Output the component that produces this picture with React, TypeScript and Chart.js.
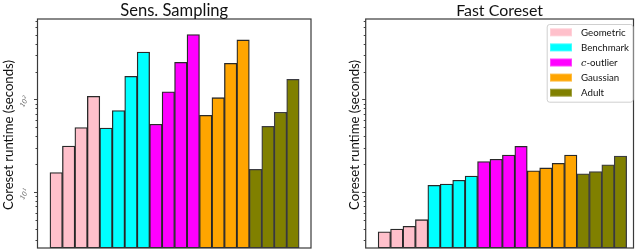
import React, { useEffect, useRef } from "react";
import { Chart, registerables } from "chart.js";

Chart.register(...registerables);

// ---------- data ----------
const groupLabels = ["Geometric", "Benchmark", "c-outlier", "Gaussian", "Adult"];
const groupColors = ["#FFC0CB", "#00FFFF", "#FF00FF", "#FFA500", "#808000"];

const sensGeometric = [16.2, 31.4, 49.6, 108];
const sensBenchmark = [49.2, 75.7, 178, 326];
const sensOutlier = [54, 121, 252, 502];
const sensGaussian = [67.5, 104.5, 246, 440];
const sensAdult = [17.6, 51.3, 72.8, 165];

const fastGeometric = [3.72, 3.98, 4.26, 5.02];
const fastBenchmark = [11.8, 12.2, 13.4, 14.9];
const fastOutlier = [21.3, 22.6, 25.1, 31.2];
const fastGaussian = [16.9, 18.2, 20.4, 25.1];
const fastAdult = [15.7, 16.6, 19.7, 24.5];

const yMin = 2.48;
const yMax = 741;
const tickExponents = [1, 2];

const FAMILY = "Lato, 'DejaVu Sans', sans-serif";

function fitSize(ctx: CanvasRenderingContext2D, text: string, target: number, family: string) {
  ctx.font = `20px ${family}`;
  const w = ctx.measureText(text).width;
  return (20 * target) / w;
}

type PanelProps = {
  title: string;
  titleWidth: number;
  series: number[][];
  tickLabels: boolean;
  legend: boolean;
  padLeft: number;
  padRight: number;
  xMin: number;
  xMax: number;
  yLabelX: number;
  left: number;
};

function Panel(p: PanelProps) {
  const ref = useRef<HTMLCanvasElement | null>(null);
  useEffect(() => {
    if (!ref.current) return;
    const datasets = p.series.map((vals, g) => ({
      label: groupLabels[g],
      data: vals.map((v, i) => ({ x: g * 4 + i, y: v })),
      backgroundColor: groupColors[g],
      borderColor: g === 4 ? "rgba(50,50,55,0.95)" : "rgba(30,30,30,0.95)",
      borderWidth: 1.3,
      borderSkipped: false as const,
      grouped: false,
      barPercentage: 1,
      categoryPercentage: 1,
    }));

    const decor = {
      id: "decor",
      afterDraw(chart: any) {
        const ctx: CanvasRenderingContext2D = chart.ctx;
        const ca = chart.chartArea;
        const y = chart.scales.y;
        ctx.save();
        // ticks
        ctx.strokeStyle = "#444";
        ctx.lineWidth = 1;
        for (let e = 0; e <= 3; e++) {
          for (let m = 1; m <= 9; m++) {
            const v = m * Math.pow(10, e);
            if (v < y.min || v > y.max) continue;
            const py = Math.round(y.getPixelForValue(v)) + 0.5;
            const len = m === 1 ? 3.5 : 2;
            ctx.beginPath();
            ctx.moveTo(ca.left - len, py);
            ctx.lineTo(ca.left, py);
            ctx.stroke();
          }
        }
        // frame
        ctx.strokeStyle = "#3a3a3a";
        ctx.lineWidth = 1.2;
        ctx.strokeRect(ca.left, ca.top, ca.right - ca.left, ca.bottom - ca.top);

        ctx.fillStyle = "#111";
        // title
        const ts = fitSize(ctx, p.title, p.titleWidth, FAMILY);
        ctx.font = `${ts}px ${FAMILY}`;
        ctx.textAlign = "center";
        ctx.textBaseline = "alphabetic";
        ctx.fillText(p.title, (ca.left + ca.right) / 2, 15.5);

        // y label
        const yl = "Coreset runtime (seconds)";
        const ys = fitSize(ctx, yl, 150, FAMILY);
        ctx.save();
        ctx.translate(p.yLabelX, 135);
        ctx.rotate(-Math.PI / 2);
        ctx.font = `${ys}px ${FAMILY}`;
        ctx.fillText(yl, 0, 0);
        ctx.restore();

        // tick labels
        if (p.tickLabels) {
          ctx.fillStyle = "#666";
          for (const ex of tickExponents) {
            const py = y.getPixelForValue(Math.pow(10, ex));
            ctx.save();
            ctx.translate(ca.left - 13, py + 2);
            ctx.rotate(-Math.PI / 3);
            ctx.textAlign = "left";
            ctx.textBaseline = "middle";
            ctx.font = `italic 7px ${FAMILY}`;
            const w = ctx.measureText("10").width;
            ctx.fillText("10", -6, 0);
            ctx.font = `italic 5px ${FAMILY}`;
            ctx.fillText(String(ex), -6 + w + 0.3, -2.5);
            ctx.restore();
          }
        }

        // legend
        if (p.legend) {
          const bx = 226.7, by = 24, bw = 85.8, bh = 77.7;
          ctx.fillStyle = "rgba(255,255,255,0.85)";
          ctx.strokeStyle = "#cfcfcf";
          ctx.lineWidth = 1;
          ctx.beginPath();
          (ctx as any).roundRect(bx + 0.5, by + 0.5, bw, bh, 2.5);
          ctx.fill();
          ctx.stroke();
          const ls = fitSize(ctx, "Benchmark", 48, FAMILY);
          chart.data.datasets.forEach((ds: any, i: number) => {
            const cy = 32.3 + i * 15.1;
            ctx.globalAlpha = 0.75;
            ctx.fillStyle = ds.backgroundColor;
            ctx.fillRect(230, cy - 4, 22, 8);
            ctx.globalAlpha = 1;
            ctx.fillStyle = ds.backgroundColor;
            ctx.fillRect(231, cy - 3, 20, 6);
            ctx.fillStyle = "#111";
            ctx.textAlign = "left";
            ctx.textBaseline = "middle";
            const label: string = ds.label;
            let tx = 261;
            if (label.startsWith("c-")) {
              ctx.font = `italic ${ls}px 'DejaVu Serif', serif`;
              ctx.fillText("c", tx, cy + 0.5);
              tx += ctx.measureText("c").width;
              ctx.font = `${ls}px ${FAMILY}`;
              ctx.fillText(label.slice(1), tx, cy + 0.5);
            } else {
              ctx.font = `${ls}px ${FAMILY}`;
              ctx.fillText(label, tx, cy + 0.5);
            }
          });
        }
        ctx.restore();
      },
    };

    const chart = new Chart(ref.current, {
      type: "bar",
      data: { datasets: datasets as any },
      options: {
        animation: false,
        responsive: false,
        maintainAspectRatio: false,
        devicePixelRatio: 1,
        layout: { padding: { left: p.padLeft, right: p.padRight, top: 19, bottom: 1 } },
        plugins: { legend: { display: false }, tooltip: { enabled: false }, title: { display: false } },
        scales: {
          x: { type: "linear", display: false, offset: false, min: p.xMin, max: p.xMax, ticks: { stepSize: 1 } },
          y: { type: "logarithmic", display: false, min: yMin, max: yMax },
        },
      },
      plugins: [decor],
    });
    return () => chart.destroy();
  }, []);
  return (
    <canvas
      ref={ref}
      width={320}
      height={249}
      style={{ position: "absolute", left: p.left, top: 0, width: 320, height: 249 }}
    />
  );
}

export default function App() {
  return (
    <div style={{ position: "absolute", left: 0, top: 0, width: 640, height: 249, background: "#fff" }}>
      <Panel
        title="Sens. Sampling"
        titleWidth={108}
        series={[sensGeometric, sensBenchmark, sensOutlier, sensGaussian, sensAdult]}
        tickLabels={true}
        legend={false}
        padLeft={37.5}
        padRight={9}
        xMin={-1.5}
        xMax={20.45}
        yLabelX={12.5}
        left={0}
      />
      <Panel
        title="Fast Coreset"
        titleWidth={87}
        series={[fastGeometric, fastBenchmark, fastOutlier, fastGaussian, fastAdult]}
        tickLabels={false}
        legend={true}
        padLeft={45.7}
        padRight={6.5}
        xMin={-1.5}
        xMax={20.05}
        yLabelX={38.5}
        left={320}
      />
    </div>
  );
}
